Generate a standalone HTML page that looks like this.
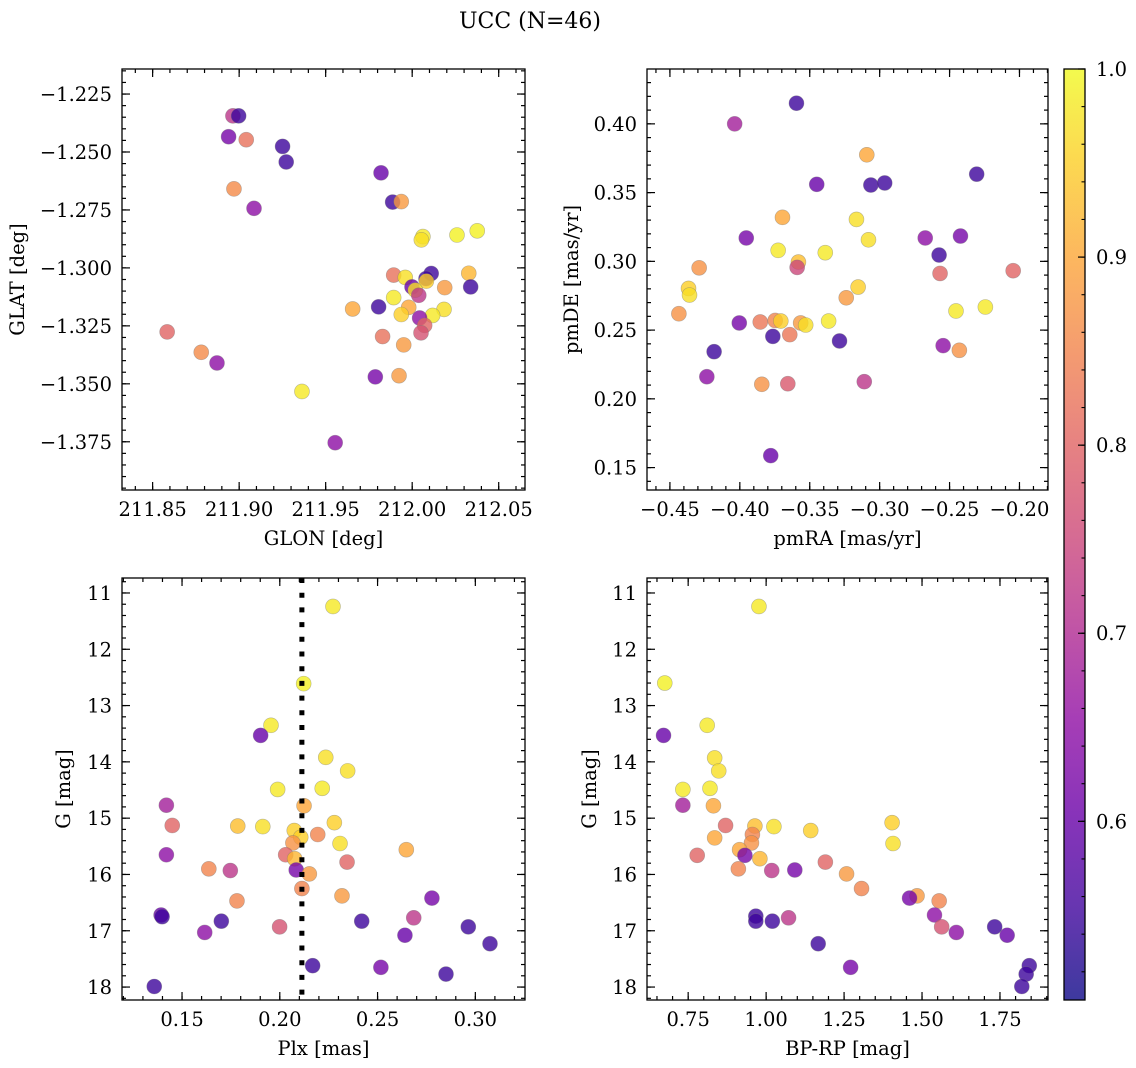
<!DOCTYPE html>
<html><head><meta charset="utf-8">
<style>
html,body{margin:0;padding:0;background:#fff;}
svg{display:block;font-family:"DejaVu Serif","Liberation Serif",serif;}
</style></head>
<body>
<svg id="fig" width="1136" height="1068" viewBox="0 0 1136 1068" xmlns="http://www.w3.org/2000/svg">
<rect width="1136" height="1068" fill="#fff"/>
<text x="530" y="28" font-size="22" text-anchor="middle">UCC (N=46)</text>
</svg>
<script>
// ---- data ----
const glon = [211.8964,211.8997,211.8939,211.9041,211.9251,211.9272,211.897,211.9086,211.982,211.9887,211.9937,212.0062,212.0053,212.0259,212.0376,211.9893,211.996,212.011,212.008,212.0082,212.0327,212.0338,212.0188,211.9999,212.0018,212.0038,211.9893,211.9656,211.9806,211.998,211.9937,212.0184,212.0118,212.0043,212.0072,212.0051,211.9829,211.9951,211.8584,211.8781,211.8872,211.9787,211.9924,211.9363,211.9555];
const glat = [-1.2344,-1.2344,-1.2434,-1.2447,-1.2476,-1.2543,-1.2659,-1.2743,-1.259,-1.2716,-1.2714,-1.2865,-1.2879,-1.2858,-1.284,-1.3031,-1.3041,-1.3024,-1.3046,-1.3057,-1.3023,-1.3082,-1.3085,-1.3082,-1.3096,-1.3118,-1.3128,-1.3177,-1.3168,-1.317,-1.3201,-1.3179,-1.3205,-1.3216,-1.3248,-1.328,-1.3296,-1.3332,-1.3276,-1.3364,-1.341,-1.347,-1.3465,-1.3533,-1.3754];
const probPos = [0.72,0.55,0.62,0.82,0.55,0.55,0.86,0.65,0.6,0.55,0.88,0.98,0.97,0.99,0.99,0.82,0.97,0.55,0.55,0.95,0.92,0.55,0.88,0.6,0.97,0.72,0.98,0.9,0.55,0.9,0.95,0.97,0.98,0.65,0.8,0.77,0.82,0.88,0.8,0.86,0.65,0.62,0.88,0.98,0.65];

const pmra = [-0.3595,-0.4037,-0.3092,-0.2306,-0.345,-0.3063,-0.2964,-0.3695,-0.3166,-0.308,-0.3954,-0.2674,-0.2422,-0.3726,-0.3389,-0.2575,-0.3581,-0.359,-0.4291,-0.2568,-0.2045,-0.3154,-0.4367,-0.436,-0.3239,-0.2454,-0.2244,-0.4436,-0.4004,-0.3854,-0.3747,-0.3707,-0.3565,-0.3529,-0.3365,-0.3764,-0.3643,-0.3287,-0.4184,-0.2546,-0.243,-0.4236,-0.3843,-0.3657,-0.311,-0.3779];
const pmde = [0.415,0.400,0.3775,0.3634,0.356,0.3555,0.357,0.332,0.3305,0.3157,0.317,0.317,0.3184,0.308,0.3063,0.3046,0.2995,0.2956,0.2953,0.2912,0.2932,0.2813,0.2803,0.2755,0.2735,0.2639,0.2668,0.2619,0.2552,0.2559,0.257,0.2566,0.2552,0.2537,0.2566,0.2454,0.2467,0.2421,0.2343,0.2387,0.2353,0.2161,0.2106,0.211,0.2125,0.1587];
const probPm = [0.55,0.68,0.9,0.55,0.6,0.55,0.55,0.9,0.97,0.97,0.62,0.65,0.62,0.98,0.98,0.55,0.93,0.75,0.87,0.8,0.8,0.95,0.95,0.97,0.88,0.98,0.98,0.87,0.62,0.83,0.85,0.95,0.88,0.97,0.98,0.55,0.83,0.55,0.55,0.65,0.87,0.65,0.87,0.78,0.72,0.6];

const plx = [0.2272,0.2122,0.1955,0.1902,0.2235,0.2347,0.1989,0.2217,0.142,0.2124,0.145,0.1785,0.1913,0.2279,0.2074,0.2107,0.2194,0.2067,0.2308,0.2647,0.142,0.203,0.2076,0.2344,0.1637,0.1747,0.2084,0.2151,0.2113,0.2318,0.1781,0.2778,0.1393,0.1398,0.1701,0.2419,0.2685,0.1999,0.2964,0.1616,0.264,0.3075,0.2168,0.2517,0.285,0.1358];
const gPlx = [11.24,12.61,13.35,13.53,13.92,14.16,14.49,14.47,14.77,14.78,15.13,15.14,15.15,15.08,15.22,15.34,15.29,15.44,15.45,15.56,15.65,15.65,15.72,15.78,15.90,15.93,15.92,15.99,16.25,16.38,16.47,16.42,16.72,16.75,16.83,16.83,16.77,16.93,16.93,17.03,17.08,17.23,17.62,17.65,17.77,17.99];
const probPlx = [0.98,0.99,0.98,0.6,0.97,0.97,0.98,0.98,0.68,0.9,0.8,0.93,0.97,0.95,0.95,0.95,0.85,0.87,0.97,0.9,0.65,0.8,0.92,0.8,0.85,0.72,0.62,0.88,0.85,0.88,0.85,0.62,0.6,0.55,0.55,0.55,0.72,0.77,0.55,0.65,0.6,0.55,0.55,0.62,0.55,0.55];
const plxMedian = [0.2113];

const bprp = [0.977,0.675,0.811,0.671,0.835,0.848,0.733,0.820,0.733,0.831,0.870,0.964,1.025,1.404,1.143,1.407,0.956,0.953,0.835,0.915,0.779,0.932,0.980,1.190,0.911,1.018,1.092,1.258,1.306,1.484,1.555,1.460,1.540,0.967,0.967,1.020,1.072,1.563,1.733,1.610,1.773,1.167,1.844,1.271,1.834,1.820];
const gCmd = [11.24,12.60,13.35,13.53,13.93,14.16,14.49,14.47,14.77,14.78,15.13,15.14,15.15,15.08,15.22,15.45,15.29,15.44,15.35,15.56,15.66,15.66,15.72,15.78,15.90,15.93,15.92,15.99,16.25,16.38,16.47,16.42,16.72,16.74,16.83,16.83,16.77,16.93,16.93,17.03,17.08,17.23,17.62,17.65,17.77,17.99];
const probCmd = [0.98,0.99,0.98,0.6,0.97,0.97,0.98,0.98,0.68,0.9,0.8,0.93,0.97,0.95,0.95,0.97,0.85,0.87,0.9,0.9,0.8,0.62,0.92,0.8,0.85,0.72,0.62,0.88,0.85,0.88,0.85,0.62,0.65,0.55,0.55,0.55,0.72,0.77,0.55,0.65,0.6,0.55,0.55,0.62,0.55,0.55];

const tlXTicks = ["211.85","211.90","211.95","212.00","212.05"];
const tlYTicks = ["-1.225","-1.250","-1.275","-1.300","-1.325","-1.350","-1.375"];
const trXTicks = ["-0.45","-0.40","-0.35","-0.30","-0.25","-0.20"];
const trYTicks = ["0.15","0.20","0.25","0.30","0.35","0.40"];
const blXTicks = ["0.15","0.20","0.25","0.30"];
const gTicks = ["11","12","13","14","15","16","17","18"];
const brXTicks = ["0.75","1.00","1.25","1.50","1.75"];
const cbTicks = ["0.6","0.7","0.8","0.9","1.0"];
const cMin = 0.505, cMax = 1.0;

// ---- drawing ----
const NS = "http://www.w3.org/2000/svg";
const svg = document.getElementById('fig');
const FS = 19.5;
function mk(tag, attrs, parent){const e=document.createElementNS(NS,tag);for(const k in attrs)e.setAttribute(k,attrs[k]);(parent||svg).appendChild(e);return e;}
const plasma=[[13,8,135],[65,4,157],[106,0,168],[143,13,164],[177,42,144],[204,71,120],[225,100,98],[242,132,75],[252,166,54],[252,206,37],[240,249,33]];
function cmap(v){let t=(v-cMin)/(cMax-cMin);t=Math.max(0,Math.min(1,t))*10;const i=Math.min(9,Math.floor(t));const f=t-i;const a=plasma[i],b=plasma[i+1];return `rgb(${Math.round(a[0]+(b[0]-a[0])*f)},${Math.round(a[1]+(b[1]-a[1])*f)},${Math.round(a[2]+(b[2]-a[2])*f)})`;}
function fmt(s){return s.replace('-','\u2212');}

function panel(name, box, xd, yd, xTicks, yTicks, xMinor, yMinor, xs, ys, cs, xlabel, ylabel, ylabelX, yInvert, extra){
  const g=mk('g',{});
  
  
  const [L,T,R,B]=box;
  const sx=v=>L+(v-xd[0])/(xd[1]-xd[0])*(R-L);
  const sy=yInvert? (v=>T+(v-yd[0])/(yd[1]-yd[0])*(B-T)) : (v=>B-(v-yd[0])/(yd[1]-yd[0])*(B-T));
  const cp='clip-'+name;
  const cl=mk('clipPath',{id:cp},g);mk('rect',{x:L,y:T,width:R-L,height:B-T},cl);
  const pg=mk('g',{'clip-path':`url(#${cp})`},g);
  for(let i=0;i<xs.length;i++){
    const c=mk('circle',{cx:sx(xs[i]),cy:sy(ys[i]),r:7.5,fill:cmap(cs[i]),'fill-opacity':0.8,stroke:'#777','stroke-opacity':0.5,'stroke-width':0.6},pg);
    
    
  }
  if(extra) extra(pg,sx,sy);
  const tg=mk('g',{stroke:'#000','stroke-width':1.2},g);
  const lo=Math.min(xd[0],xd[1]),hi=Math.max(xd[0],xd[1]);
  for(let k=Math.ceil(lo/xMinor-1e-6);k*xMinor<=hi+1e-9;k++){const v=k*xMinor,x=sx(v);mk('line',{x1:x,y1:B,x2:x,y2:B-4},tg);mk('line',{x1:x,y1:T,x2:x,y2:T+4},tg);}
  const ylo=Math.min(yd[0],yd[1]),yhi=Math.max(yd[0],yd[1]);
  for(let k=Math.ceil(ylo/yMinor-1e-6);k*yMinor<=yhi+1e-9;k++){const v=k*yMinor,y=sy(v);mk('line',{x1:L,y1:y,x2:L+4,y2:y},tg);mk('line',{x1:R,y1:y,x2:R-4,y2:y},tg);}
  xTicks.forEach(s=>{const x=sx(parseFloat(s));mk('line',{x1:x,y1:B,x2:x,y2:B-8},tg);mk('line',{x1:x,y1:T,x2:x,y2:T+8},tg);
    const t=mk('text',{x:x,y:B+26,'font-size':FS,'text-anchor':'middle'},g);t.textContent=fmt(s);
    
    });
  yTicks.forEach(s=>{const y=sy(parseFloat(s));mk('line',{x1:L,y1:y,x2:L+8,y2:y},tg);mk('line',{x1:R,y1:y,x2:R-8,y2:y},tg);
    const t=mk('text',{x:L-10,y:y+7,'font-size':FS,'text-anchor':'end'},g);t.textContent=fmt(s);
    
    });
  mk('rect',{x:L,y:T,width:R-L,height:B-T,fill:'none',stroke:'#000','stroke-width':1.3},g);
  const xl=mk('text',{x:(L+R)/2,y:B+55,'font-size':FS,'text-anchor':'middle'},g);xl.textContent=xlabel;
  
  
  const yc=(T+B)/2;
  const yl=mk('text',{x:ylabelX,y:yc,'font-size':FS,'text-anchor':'middle',transform:`rotate(-90 ${ylabelX} ${yc})`},g);yl.textContent=ylabel;
  
  
}

panel('glon-glat-panel',[122,69,525,490],[211.8323,212.0652],[-1.3958,-1.2142],tlXTicks,tlYTicks,0.01,0.005,glon,glat,probPos,'GLON [deg]','GLAT [deg]',24,false);
panel('pm-panel',[647,69,1048,490],[-0.4664,-0.1796],[0.1337,0.4399],trXTicks,trYTicks,0.01,0.01,pmra,pmde,probPm,'pmRA [mas/yr]','pmDE [mas/yr]',578,false);
panel('plx-g-panel',[122,578,525,1000],[0.1193,0.3254],[10.734,18.23],blXTicks,gTicks,0.01,0.2,plx,gPlx,probPlx,'Plx [mas]','G [mag]',70,true,(pg,sx,sy)=>{
  const x=sx(plxMedian[0]);
  const l=mk('line',{x1:x,y1:578,x2:x,y2:1000,stroke:'#000','stroke-width':5,'stroke-dasharray':'5 9.7'},pg);
  
  
});
panel('cmd-panel',[647,578,1048,1000],[0.618,1.904],[10.734,18.23],brXTicks,gTicks,0.05,0.2,bprp,gCmd,probCmd,'BP-RP [mag]','G [mag]',596,true);

// colorbar
(function(){
  const L=1064,R=1085,T=69,B=1000;
  const g=mk('g',{});
  
  
  const defs=mk('defs',{},g);
  const lg=mk('linearGradient',{id:'cbg',x1:0,y1:1,x2:0,y2:0},defs);
  for(let i=0;i<=20;i++){const v=cMin+(cMax-cMin)*i/20;mk('stop',{offset:i/20,'stop-color':cmap(v),'stop-opacity':0.8},lg);}
  mk('rect',{x:L,y:T,width:R-L,height:B-T,fill:'url(#cbg)'},g);
  const sy=v=>B-(v-cMin)/(cMax-cMin)*(B-T);
  for(let k=26;k<=50;k++){const y=sy(k*0.02);mk('line',{x1:R,y1:y,x2:R-3.5,y2:y,stroke:'#000','stroke-width':1.1},g);}
  cbTicks.forEach(s=>{const y=sy(parseFloat(s));mk('line',{x1:R,y1:y,x2:R-7,y2:y,stroke:'#000','stroke-width':1.2},g);
    const t=mk('text',{x:R+11,y:y+7,'font-size':FS},g);t.textContent=s;
    
    });
  mk('rect',{x:L,y:T,width:R-L,height:B-T,fill:'none',stroke:'#000','stroke-width':1.3},g);
})();
</script>
</body></html>
